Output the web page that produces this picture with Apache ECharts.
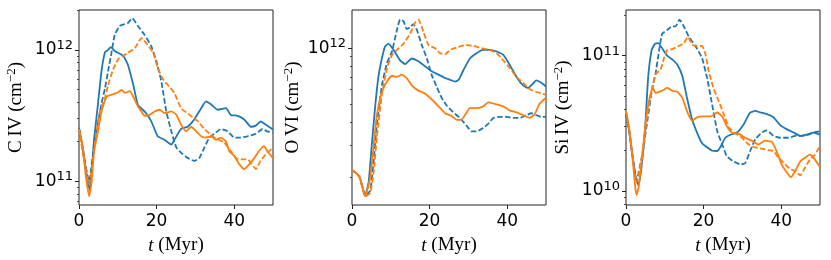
<!DOCTYPE html>
<html><head><meta charset="utf-8">
<script src="https://cdn.jsdelivr.net/npm/echarts@6/dist/echarts.min.js"></script>
<style>html,body{margin:0;padding:0;background:#fff}#c{width:831px;height:260px}</style>
</head><body><div id="c"></div>
<script>
// ---- data: [t (Myr), column density (cm^-2)] ----
const civBlueSolid = [[0,2.55e11],[1,1.8e11],[1.8,1.2e11],[2.8,8.5e10],[3.9,2.1e11],[4.9,3.9e11],[5.8,6.9e11],[6.7,9.6e11],[7.5,1.0e12],[8.2,1.05e12],[9.2,9.8e11],[11.4,9.0e11],[12.6,7.7e11],[14,5.4e11],[15.2,3.8e11],[16.9,3.4e11],[18.6,2.87e11],[20.3,2.2e11],[22,2.07e11],[23.8,1.9e11],[24.6,2.07e11],[26.3,2.5e11],[28,2.6e11],[29.7,2.95e11],[31.5,3.6e11],[32.7,4.06e11],[34,3.85e11],[35.7,3.5e11],[37.9,3.6e11],[39.1,3.2e11],[40.9,3.15e11],[42.6,2.95e11],[44.3,2.6e11],[45.6,2.65e11],[46.8,2.85e11],[48.1,2.7e11],[50,2.48e11]];
const civBlueDashed = [[0,2.55e11],[1,1.7e11],[2.6,1.0e11],[3.9,1.9e11],[5.8,3.9e11],[6.7,5.1e11],[7.5,6.9e11],[8.4,9.6e11],[9.2,1.3e12],[10.5,1.52e12],[11.8,1.57e12],[12.6,1.6e12],[13.7,1.74e12],[15.2,1.52e12],[16.9,1.3e12],[18.6,1.07e12],[19.9,8.3e11],[21.2,5.8e11],[22.5,3.4e11],[23.8,2.4e11],[25.1,1.8e11],[26.3,1.65e11],[28.1,1.5e11],[29.7,1.43e11],[31,1.5e11],[32.3,1.8e11],[33.6,2.15e11],[34.9,2.3e11],[36.6,2.5e11],[38.3,2.4e11],[40,2.15e11],[41.7,2.15e11],[43.4,2.2e11],[45.6,2.3e11],[47.3,2.5e11],[48.5,2.4e11],[50,2.35e11]];
const civOrangeSolid = [[0,2.5e11],[1,1.8e11],[1.7,1.13e11],[2.6,7.7e10],[3.2,9.5e10],[3.9,1.7e11],[4.9,2.4e11],[5.8,3.4e11],[7.1,4.4e11],[8.4,4.56e11],[9.7,4.7e11],[11,4.95e11],[11.8,4.7e11],[13.1,4.85e11],[14,4.4e11],[15.2,3.7e11],[16.1,3.4e11],[16.9,3.15e11],[18.2,3.2e11],[19.5,3.4e11],[20.8,3.5e11],[22,3.3e11],[23.8,3.4e11],[25.1,3.2e11],[26.3,2.7e11],[27.6,2.4e11],[28.9,2.6e11],[30.2,2.4e11],[31.5,2.2e11],[32.7,2.15e11],[34,2.2e11],[35.3,2.07e11],[36.6,2.15e11],[37.9,2.0e11],[38.7,1.7e11],[40,1.56e11],[41.3,1.35e11],[42.6,1.24e11],[43.9,1.35e11],[45.2,1.5e11],[46.4,1.7e11],[47.7,1.85e11],[48.5,1.7e11],[50,1.5e11]];
const civOrangeDashed = [[0,2.5e11],[1.2,1.5e11],[2.6,9.5e10],[3.5,1.35e11],[4.5,2.4e11],[5.4,3.4e11],[6.7,4.3e11],[7.5,5.4e11],[8.8,7.1e11],[10.1,8.5e11],[11.4,9.0e11],[12.6,9.5e11],[14.4,1.03e12],[16.1,1.23e12],[17.4,1.12e12],[19.1,9.5e11],[20.3,7.3e11],[21.6,6.0e11],[22.9,5.4e11],[24.6,4.7e11],[26.3,3.6e11],[28.5,3.2e11],[30.6,2.87e11],[32.3,2.5e11],[34.9,2.15e11],[37.4,1.97e11],[39.1,1.7e11],[40.5,1.5e11],[41.7,1.47e11],[43.4,1.47e11],[45.6,1.24e11],[46.8,1.43e11],[48.1,1.6e11],[50,1.8e11]];

const oviBlueSolid = [[0,2.2e11],[1.2,2.1e11],[2,2.0e11],[3.4,1.6e11],[4.3,1.9e11],[5.1,3.0e11],[6,4.9e11],[6.8,7.0e11],[7.7,8.8e11],[8.5,1.02e12],[9.4,1.06e12],[10.7,9.8e11],[12.4,8.6e11],[13.7,8.2e11],[15.4,8.8e11],[17.1,8.5e11],[18.8,8.0e11],[20.5,7.5e11],[22.3,7.2e11],[24,6.9e11],[25.3,6.75e11],[26.6,6.6e11],[27.5,6.75e11],[28.7,7.6e11],[30.4,8.8e11],[32.1,9.4e11],[33.8,9.8e11],[35.5,9.8e11],[37.3,9.6e11],[39,9.2e11],[40.7,8.1e11],[42.4,7.0e11],[44.1,6.3e11],[45.4,6.1e11],[46.2,6.3e11],[47.5,6.7e11],[48.8,6.5e11],[50,6.2e11]];
const oviBlueDashed = [[0,2.2e11],[1.2,2.1e11],[2,2.0e11],[3.4,1.6e11],[4.7,1.7e11],[5.6,2.5e11],[6.4,3.85e11],[7.7,6.3e11],[9,8.3e11],[10.3,9.6e11],[11.6,1.26e12],[12.4,1.43e12],[13.3,1.4e12],[14.1,1.27e12],[15,1.3e12],[15.8,1.35e12],[16.7,1.26e12],[18,1.04e12],[19.3,8.8e11],[20.5,7.2e11],[21.8,6.2e11],[23.1,5.4e11],[24.4,4.9e11],[26.1,4.5e11],[27.8,4.2e11],[29.6,3.8e11],[30.8,3.55e11],[32.1,3.55e11],[33.8,3.7e11],[35.1,3.9e11],[36.4,4.2e11],[38.1,4.25e11],[39.8,4.25e11],[41.5,4.2e11],[43.3,4.2e11],[45,4.35e11],[46.2,4.45e11],[47.5,4.35e11],[48.8,4.25e11],[50,4.25e11]];
const oviOrangeSolid = [[0,2.2e11],[1.2,2.1e11],[2,2.0e11],[3.4,1.58e11],[4.7,2.0e11],[5.6,3.0e11],[6.4,4.35e11],[7.7,5.8e11],[9,6.6e11],[10.3,7.1e11],[11.6,7.0e11],[12.8,7.2e11],[14.1,6.9e11],[15.4,6.3e11],[17.1,5.9e11],[18.8,5.7e11],[20.5,5.3e11],[22.3,4.85e11],[24,4.45e11],[25.7,4.3e11],[27,4.1e11],[28.2,4.1e11],[29.1,4.35e11],[30.4,4.75e11],[32.1,4.75e11],[33.8,4.85e11],[35.1,5.1e11],[36.8,5.0e11],[39,4.85e11],[40.7,4.6e11],[42.4,4.5e11],[44.1,4.35e11],[45.8,4.2e11],[47.1,4.4e11],[48.3,5.0e11],[50,5.4e11]];
const oviOrangeDashed = [[0,2.2e11],[1.2,2.1e11],[2,2.0e11],[3.4,1.58e11],[4.7,1.65e11],[5.6,2.15e11],[6.4,3.3e11],[7.7,5.6e11],[9,7.8e11],[10.3,9.2e11],[11.6,9.8e11],[13.3,1.06e12],[15,1.2e12],[16.2,1.37e12],[17.1,1.43e12],[18.4,1.23e12],[19.7,1.04e12],[21.4,1.0e12],[22.7,9.4e11],[24,9.3e11],[25.3,9.8e11],[27,1.01e12],[29.1,1.04e12],[31.3,1.03e12],[33.4,1.0e12],[35.5,9.8e11],[37.3,9.4e11],[39,8.6e11],[40.7,7.8e11],[42.4,7.0e11],[44.1,6.5e11],[45.8,6.0e11],[47.5,5.8e11],[48.8,5.7e11],[50,5.6e11]];

const sivBlueSolid = [[0,3.7e10],[0.8,2.8e10],[1.6,1.85e10],[2.5,1.26e10],[3.2,1.1e10],[4,1.5e10],[4.9,2.8e10],[5.7,6.85e10],[6.6,1.1e11],[7.4,1.22e11],[8.3,1.24e11],[9.2,1.15e11],[10.6,1.0e11],[11.9,9.4e10],[13.2,8.6e10],[14.5,7.1e10],[15.7,4.9e10],[17,3.4e10],[18.3,2.7e10],[19.6,2.25e10],[20.9,2.1e10],[22.2,1.98e10],[23.5,1.97e10],[24.3,2.1e10],[25.6,2.47e10],[26.9,2.6e10],[28.6,2.7e10],[30.3,3.1e10],[32,3.8e10],[33.3,3.9e10],[34.6,3.8e10],[36.3,3.7e10],[38,3.5e10],[39.8,3.05e10],[41.5,2.85e10],[43.2,2.7e10],[44.9,2.55e10],[46.6,2.6e10],[48.3,2.7e10],[50,2.6e10]];
const sivBlueDashed = [[0,3.7e10],[0.8,2.8e10],[1.6,1.9e10],[2.7,1.2e10],[4.2,1.85e10],[5.5,3.3e10],[6.8,5.8e10],[7.6,7.3e10],[8.5,1.08e11],[9.3,1.45e11],[10.6,1.55e11],[11.9,1.65e11],[12.8,1.65e11],[13.8,1.85e11],[14.9,1.65e11],[16.2,1.38e11],[17.9,1.18e11],[19.6,9.6e10],[20.9,6.85e10],[22.2,4.35e10],[23.5,2.77e10],[24.8,2.2e10],[26,1.8e10],[27.7,1.65e10],[29.5,1.57e10],[30.7,1.6e10],[32,1.97e10],[33.3,2.4e10],[35,2.7e10],[36.3,2.8e10],[38,2.55e10],[39.8,2.47e10],[41.9,2.47e10],[43.6,2.55e10],[45.3,2.55e10],[47,2.6e10],[48.3,2.7e10],[50,2.75e10]];
const sivOrangeSolid = [[0,3.9e10],[0.8,2.9e10],[1.6,1.85e10],[2.3,1.12e10],[2.7,9.3e9],[3.3,1.08e10],[4.2,1.85e10],[5,3.1e10],[5.9,4.6e10],[6.9,5.8e10],[7.6,5.3e10],[8.5,5.4e10],[9.8,5.6e10],[10.6,5.8e10],[11.9,5.5e10],[13.2,5.4e10],[14.5,4.9e10],[15.7,3.9e10],[17,3.3e10],[18.3,3.5e10],[20,3.55e10],[21.8,3.55e10],[23.5,3.8e10],[24.8,3.55e10],[26,3.0e10],[27.3,2.7e10],[29,2.65e10],[30.7,2.47e10],[32.4,2.35e10],[34.1,2.2e10],[35.8,2.35e10],[37.6,2.3e10],[38.8,1.97e10],[40.1,1.57e10],[41.5,1.36e10],[42.5,1.26e10],[43.6,1.4e10],[44.9,1.65e10],[46.2,1.76e10],[47.4,1.85e10],[48.3,1.76e10],[50,1.5e10]];
const sivOrangeDashed = [[0,3.9e10],[0.8,2.9e10],[1.6,1.9e10],[2.7,1.15e10],[4.2,1.85e10],[5.5,3.7e10],[6.8,5.8e10],[7.6,7.3e10],[8.9,7.9e10],[9.8,9.6e10],[10.6,1.1e11],[11.9,1.12e11],[13.6,1.18e11],[14.9,1.24e11],[16,1.38e11],[17,1.21e11],[18.3,1.18e11],[19.6,1.18e11],[20.5,1.02e11],[21.3,7.7e10],[22.6,5.7e10],[23.9,4.6e10],[25.2,3.7e10],[26.5,2.95e10],[28.2,2.65e10],[29.9,2.47e10],[31.6,2.2e10],[33.3,2.1e10],[35,2.05e10],[36.7,2.0e10],[38,1.97e10],[39.3,1.76e10],[41,1.57e10],[42.3,1.45e10],[43.6,1.4e10],[44.9,1.3e10],[46.2,1.5e10],[47.4,1.7e10],[48.7,1.85e10],[50,2.15e10]];

const xTicks = [0, 20, 40];
const panelNames = ['C\u2009IV', 'O\u2009VI', 'Si\u2009IV'];
const yMins = [6.6e10, 1.42e11, 7.85e9];
const yMaxs = [2.01e12, 1.61e12, 2.18e11];
const yMajor = [[1e11, 1e12], [1e12], [1e10, 1e11]];
const yMinor = [
  [7e10, 8e10, 9e10, 2e11, 3e11, 4e11, 5e11, 6e11, 7e11, 8e11, 9e11, 2e12],
  [2e11, 3e11, 4e11, 5e11, 6e11, 7e11, 8e11, 9e11],
  [8e9, 9e9, 2e10, 3e10, 4e10, 5e10, 6e10, 7e10, 8e10, 9e10, 2e11]
];
const panelSeries = [
  [civBlueSolid, civBlueDashed, civOrangeSolid, civOrangeDashed],
  [oviBlueSolid, oviBlueDashed, oviOrangeSolid, oviOrangeDashed],
  [sivBlueSolid, sivBlueDashed, sivOrangeSolid, sivOrangeDashed]
];

// ---- layout/style ----
const BLUE = '#1f77b4', ORANGE = '#ff7f0e';
const styles = [[BLUE, 'solid'], [BLUE, [5.5, 2.4]], [ORANGE, 'solid'], [ORANGE, [5.5, 2.4]]];
const lefts = [79, 352, 626];
const nameGaps = [52, 48, 52];
const gridW = 194, gridTop = 10, gridH = 196;
const SERIF = '"Liberation Serif", "DejaVu Serif", serif';
const SANS = '"DejaVu Sans", sans-serif';

const grids = [], xAxes = [], yAxes = [], series = [];
for (let p = 0; p < 3; p++) {
  grids.push({left: lefts[p], top: gridTop, width: gridW, height: gridH, show: true,
    borderColor: '#222', borderWidth: 1, backgroundColor: 'transparent'});
  xAxes.push({type: 'value', gridIndex: p, min: 0, max: 50,
    axisLine: {show: false},
    axisTick: {show: true, length: 4, customValues: xTicks, lineStyle: {color: '#222', width: 1}},
    axisLabel: {customValues: xTicks, fontFamily: SANS, fontSize: 17, color: '#000', margin: 8},
    splitLine: {show: false},
    name: '{i|t}{r| (Myr)}', nameLocation: 'middle', nameGap: 31,
    nameTextStyle: {rich: {i: {fontFamily: SERIF, fontStyle: 'italic', fontSize: 19, color: '#000'},
                           r: {fontFamily: SERIF, fontSize: 19, color: '#000'}}}});
}
for (let p = 0; p < 3; p++) {
  yAxes.push({type: 'log', logBase: 10, gridIndex: p, min: yMins[p], max: yMaxs[p],
    axisLine: {show: false},
    axisTick: {show: true, length: 4, customValues: yMajor[p], lineStyle: {color: '#222', width: 1}},
    axisLabel: {customValues: yMajor[p], margin: 6,
      formatter: function (v) { return '{b|10}{s|' + Math.round(Math.log10(v)) + '}'; },
      rich: {b: {fontFamily: SANS, fontSize: 17, color: '#000'},
             s: {fontFamily: SANS, fontSize: 13, color: '#000', verticalAlign: 'bottom', padding: [0, 0, 9, 0]}}},
    splitLine: {show: false},
    name: '{r|' + panelNames[p] + ' (cm}{s|\u22122}{r|)}', nameLocation: 'middle', nameRotate: 90,
    nameGap: nameGaps[p],
    nameTextStyle: {rich: {r: {fontFamily: SERIF, fontSize: 19, color: '#000'},
                           s: {fontFamily: SERIF, fontSize: 13, color: '#000', verticalAlign: 'bottom', padding: [0, 0, 9, 0]}}}});
}
for (let p = 0; p < 3; p++) {
  yAxes.push({type: 'log', logBase: 10, gridIndex: p, min: yMins[p], max: yMaxs[p], position: 'left',
    axisLine: {show: false},
    axisTick: {show: true, length: 2, customValues: yMinor[p], lineStyle: {color: '#222', width: 0.8}},
    axisLabel: {show: false}, splitLine: {show: false}});
}
for (let p = 0; p < 3; p++) {
  panelSeries[p].forEach(function (d, k) {
    series.push({type: 'line', xAxisIndex: p, yAxisIndex: p, data: d, showSymbol: false, symbol: 'none',
      smooth: 0.15, clip: true, animation: false,
      lineStyle: {color: styles[k][0], width: 1.8, type: styles[k][1]}});
  });
}

const chart = echarts.init(document.getElementById('c'), null, {renderer: 'canvas'});
chart.setOption({animation: false, grid: grids, xAxis: xAxes, yAxis: yAxes, series: series});
</script></body></html>
